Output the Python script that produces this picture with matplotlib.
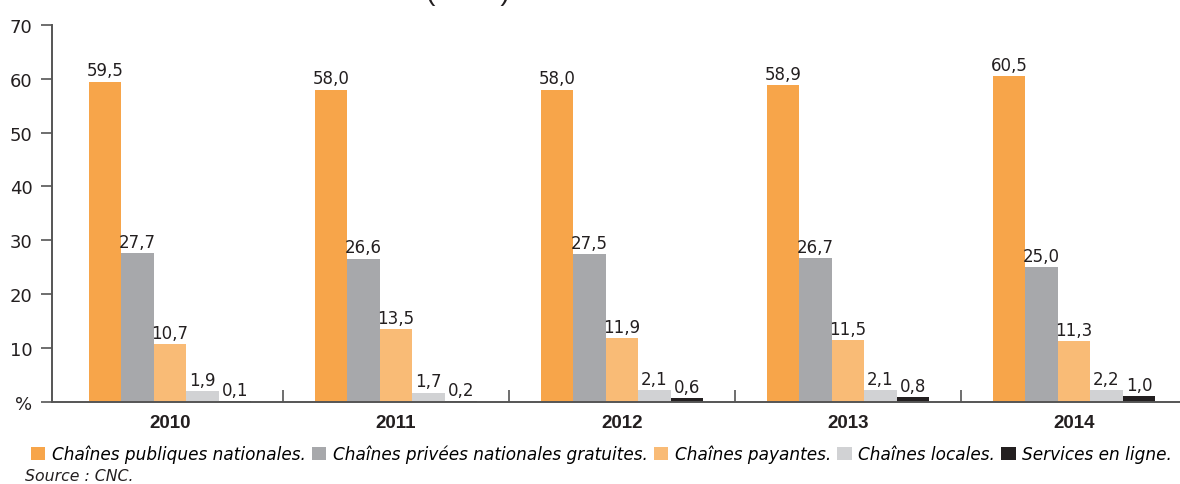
import matplotlib
matplotlib.use("Agg")
import matplotlib.pyplot as plt
from matplotlib.patches import Patch
import numpy as np

# audience share by channel type (%)
years = ["2010", "2011", "2012", "2013", "2014"]
series = [
    "Chaînes publiques nationales.",
    "Chaînes privées nationales gratuites.",
    "Chaînes payantes.",
    "Chaînes locales.",
    "Services en ligne.",
]
publiques = [59.5, 58.0, 58.0, 58.9, 60.5]
privees = [27.7, 26.6, 27.5, 26.7, 25.0]
payantes = [10.7, 13.5, 11.9, 11.5, 11.3]
locales = [1.9, 1.7, 2.1, 2.1, 2.2]
en_ligne = [0.1, 0.2, 0.6, 0.8, 1.0]
yticks = [0, 10, 20, 30, 40, 50, 60, 70]
ytick_labels = ["%", "10", "20", "30", "40", "50", "60", "70"]

colors = ["#F7A54A", "#A7A8AB", "#F9BB76", "#D1D2D4", "#231F20"]
txt = "#231F20"
axis_col = "#555555"

plt.rcParams["font.family"] = ["DejaVu Sans"]

fig = plt.figure(figsize=(11.8, 4.85), dpi=100)
ax = fig.add_axes([52 / 1180, (485 - 402.7) / 485, (1180 - 52) / 1180, (402.7 - 26) / 485])

x = np.arange(len(years))
w = 0.1438
for k, vals in enumerate([publiques, privees, payantes, locales, en_ligne]):
    pos = x + (k - 2) * w
    bars = ax.bar(pos, vals, width=w, color=colors[k], linewidth=0)
    for b, v in zip(bars, vals):
        ax.annotate(("%.1f" % v).replace(".", ","),
                    (b.get_x() + b.get_width() / 2, v),
                    xytext=(0, 1.5), textcoords="offset points",
                    ha="center", va="bottom", fontsize=12, color=txt)

ax.set_ylim(0, 70)
ax.set_xlim(-0.522, 4.469)
ax.set_yticks(yticks)
ax.set_yticklabels(ytick_labels, fontsize=13, color=txt)
ax.tick_params(axis="y", direction="out", length=8, width=1.2, color=axis_col, pad=6)

ax.set_xticks(x)
ax.set_xticklabels(years, fontsize=13.5, fontweight="bold", color=txt,
                   family="Liberation Sans")
ax.set_xticks(x[:-1] + 0.5, minor=True)
ax.tick_params(axis="x", which="major", length=0, pad=9)
ax.tick_params(axis="x", which="minor", direction="in", length=9, width=1.2, color=axis_col)

for s in ["top", "right"]:
    ax.spines[s].set_visible(False)
for s in ["left", "bottom"]:
    ax.spines[s].set_color(axis_col)
    ax.spines[s].set_linewidth(1.4)

handles = [Patch(facecolor=c, edgecolor="none") for c in colors]
fig.legend(handles, series, loc="center left", bbox_to_anchor=(24 / 1180, 1 - 455 / 485),
           ncol=5, frameon=False, handlelength=0.85, handleheight=0.85,
           handletextpad=0.4, columnspacing=0.35, borderaxespad=0,
           prop={"style": "italic", "size": 12.2})
fig.text(25 / 1180, 1 - 477 / 485, "Source : CNC.", fontsize=11.3, style="italic",
         color=txt, va="center", ha="left")

# clipped remains of the title above the figure
fig.text(468 / 1180, 1.0, "(en %)", fontsize=20.5, color=txt, ha="center",
         va="baseline", family="Liberation Sans")

fig.savefig("out.png", dpi=100)
